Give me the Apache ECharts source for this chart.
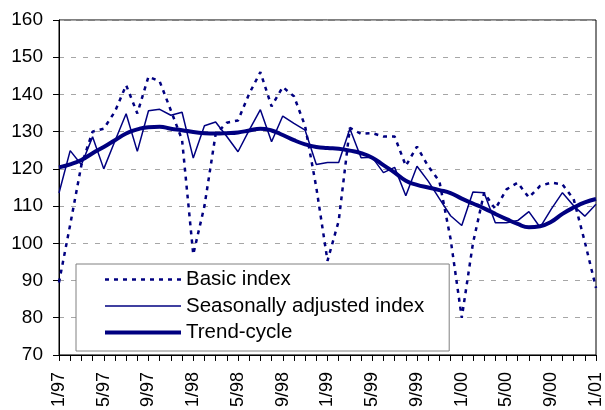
<!DOCTYPE html>
<html>
<head>
<meta charset="utf-8">
<script src="https://cdn.jsdelivr.net/npm/echarts@6/dist/echarts.min.js"></script>
<style>
  html, body { margin: 0; padding: 0; background: #fff; }
  #main { width: 605px; height: 410px; }
</style>
</head>
<body>
<div id="main"></div>
<script>
// months 1/97 .. 1/01
var months = [
  '1/97','2/97','3/97','4/97','5/97','6/97','7/97','8/97','9/97','10/97','11/97','12/97',
  '1/98','2/98','3/98','4/98','5/98','6/98','7/98','8/98','9/98','10/98','11/98','12/98',
  '1/99','2/99','3/99','4/99','5/99','6/99','7/99','8/99','9/99','10/99','11/99','12/99',
  '1/00','2/00','3/00','4/00','5/00','6/00','7/00','8/00','9/00','10/00','11/00','12/00',
  '1/01'
];

var basicIndex = [
  89.5, 105, 121, 130, 130.8, 135.4, 142.5, 134.9, 144.8, 143.5, 135.7, 127.8,
  97, 110, 129.3, 132.4, 133, 140.2, 146, 136.8, 142, 139.5, 131.5, 115,
  95.3, 106, 131, 129.4, 129.6, 128.7, 128.7, 120.8, 126, 120.7, 116.7, 101.2,
  80, 100, 113.6, 109.2, 114.5, 116.3, 112.3, 115.4, 116.3, 115.8, 111.9, 100.4,
  88
];

var seasAdj = [
  113.5, 124.9, 121.1, 128.6, 120, 127.5, 134.8, 124.7, 135.6, 136, 134.4, 135.2,
  122.9, 131.6, 132.6, 128.7, 124.6, 130.4, 135.9, 127.3, 134.2, 132.2, 130.4, 121.2,
  121.7, 121.7, 130.8, 123, 123.1, 119, 120.4, 112.8, 120.7, 116.7, 112, 107.4,
  104.8, 113.8, 113.6, 105.5, 105.5, 106.1, 108.5, 104.3, 109.2, 113.6, 110.1, 107.3,
  110.5
];

var trendCycle = [
  120.4, 121.2, 122.4, 124.2, 125.9, 127.7, 129.5, 130.6, 131.2, 131.3, 130.8, 130.4,
  129.9, 129.6, 129.5, 129.6, 129.8, 130.3, 130.8, 130.3, 129.1, 127.7, 126.6, 125.9,
  125.6, 125.4, 124.9, 124.2, 123, 121, 119, 116.8, 115.7, 115, 114.3, 113.5,
  112, 110.7, 109.4, 107.9, 106.5, 105.2, 104.3, 104.6, 105.8, 107.9, 109.6, 111,
  111.9
];

var navy = '#000080';
var font = 'Liberation Sans, Arial, sans-serif';

// line styles, shared by series and legend samples
var basicStyle = { color: navy, width: 2.5, type: [4, 5] };
var seasStyle = { color: navy, width: 1.5 };
var trendStyle = { color: navy, width: 4 };

var chartDom = document.getElementById('main');
var myChart = echarts.init(chartDom);
var option;

option = {
    backgroundColor: '#fff',
    animation: false,
    grid: {
        left: 59,
        right: 4,
        top: 20,
        bottom: 54,
        show: true,
        borderColor: '#000',
        borderWidth: 1
    },
    legend: {
        orient: 'vertical',
        left: 76,
        top: 264,
        padding: [5, 25, 8, 27],
        itemGap: 5.5,
        itemWidth: 76,
        itemHeight: 14,
        backgroundColor: '#fff',
        borderColor: '#808080',
        borderWidth: 1,
        borderRadius: 0,
        itemStyle: { opacity: 0 },
        textStyle: { fontSize: 20.5, color: '#000', fontFamily: font },
        data: [
            { name: 'Basic index', lineStyle: basicStyle, itemStyle: { opacity: 0 } },
            { name: 'Seasonally adjusted index', lineStyle: seasStyle, itemStyle: { opacity: 0 } },
            { name: 'Trend-cycle', lineStyle: trendStyle, itemStyle: { opacity: 0 } }
        ]
    },
    xAxis: {
        type: 'category',
        data: months,
        boundaryGap: false,
        axisLine: { lineStyle: { color: '#000', width: 1 } },
        axisTick: { show: true, interval: 0, length: 6, lineStyle: { color: '#000' } },
        axisLabel: {
            interval: 3,
            rotate: 90,
            margin: 17,
            fontSize: 18,
            color: '#000',
            fontFamily: font
        },
        splitLine: { show: false }
    },
    yAxis: {
        type: 'value',
        min: 70,
        max: 160,
        interval: 10,
        axisLine: { show: true, lineStyle: { color: '#000', width: 1 } },
        axisTick: { show: true, length: 6, lineStyle: { color: '#000' } },
        axisLabel: { margin: 16, fontSize: 19, color: '#000', fontFamily: font },
        splitLine: {
            show: true,
            lineStyle: { color: '#a6a6a6', width: 1, type: [5, 7] }
        }
    },
    series: [
        {
            name: 'Basic index',
            type: 'line',
            data: basicIndex,
            symbol: 'none',
            lineStyle: basicStyle,
            itemStyle: { color: navy }
        },
        {
            name: 'Seasonally adjusted index',
            type: 'line',
            data: seasAdj,
            symbol: 'none',
            lineStyle: seasStyle,
            itemStyle: { color: navy }
        },
        {
            name: 'Trend-cycle',
            type: 'line',
            data: trendCycle,
            symbol: 'none',
            smooth: true,
            lineStyle: trendStyle,
            itemStyle: { color: navy }
        }
    ]
};

option && myChart.setOption(option);
</script>
</body>
</html>
